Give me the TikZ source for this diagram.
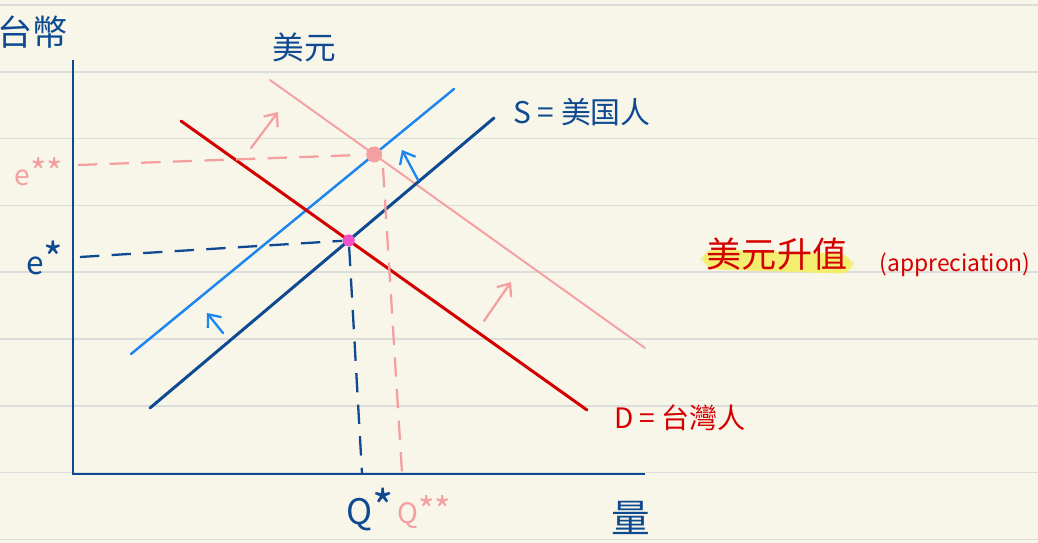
\documentclass[tikz,border=0pt]{standalone}
\usepackage{fontspec}
\newfontfamily\cjk{Noto Sans CJK TC}
\usetikzlibrary{arrows.meta}
\definecolor{paper}{HTML}{F8F5E9}
\definecolor{rule}{HTML}{DCDCDA}
\definecolor{navy}{HTML}{0D4A91}
\definecolor{sky}{HTML}{1C86EE}
\definecolor{crimson}{HTML}{D40000}
\definecolor{salmon}{HTML}{F5A0A0}
\definecolor{orchid}{HTML}{F050C8}
\definecolor{marker}{HTML}{F4EE70}
\newcommand{\hand}[1]{\cjk\fontsize{#1}{#1}\selectfont}
\newcommand{\bigstar}[1]{{\fontsize{#1}{#1}\selectfont*}}

\begin{document}
\begin{tikzpicture}[
    x=0.02cm, y=-0.02cm,
    curve/.style={line width=1.7pt, line cap=round},
    guide/.style={line width=1.3pt, dash pattern=on 11pt off 7pt},
    movearrow/.style={line width=1.3pt, line cap=round, -{Straight Barb[length=6pt, width=10pt]}},
    lbl/.style={inner sep=0pt},
    dot/.style={circle, inner sep=0pt}
]
  \useasboundingbox (0,0) rectangle (1038,543);
  % Notebook paper with ruled lines.
  \fill[paper] (0,0) rectangle (1038,543);
  \foreach \k in {0,...,8}
    \draw[rule, line width=0.9pt] (0,{5+66.8*\k}) -- (1038,{5+66.8*\k});

  % Axes.
  \coordinate (top) at (73,60);
  \coordinate (origin) at (73,474);
  \coordinate (right) at (645,474);
  \draw[navy, line width=1.7pt] (top) -- (origin) -- (right);

  % Supply and demand, before and after the shift.
  \coordinate (s1) at (150,408);  \coordinate (s2) at (494,118);
  \coordinate (d1) at (181,121);  \coordinate (d2) at (587,410);
  \coordinate (ss1) at (131,354); \coordinate (ss2) at (454,89);
  \coordinate (dd1) at (270,80);  \coordinate (dd2) at (645,348);
  \draw[curve, sky, line width=1.4pt] (ss1) -- (ss2);
  \draw[curve, salmon, line width=1.1pt] (dd1) -- (dd2);
  \draw[curve, navy] (s1) -- (s2);
  \draw[curve, crimson] (d1) -- (d2);

  \node[dot, fill=orchid, minimum size=0.24cm] (eq) at (intersection of s1--s2 and d1--d2) {};
  \node[dot, fill=salmon, minimum size=0.32cm] (eqq) at (intersection of ss1--ss2 and dd1--dd2) {};

  % Labels.
  \node[lbl, navy, font=\hand{20}] (money) at (33,32) {台幣};
  \node[lbl, navy, font=\hand{18}] (usd) at (304,47) {美元};
  \node[lbl, navy, font=\hand{17}] (supply) at (582,112) {S = 美国人};
  \node[lbl, crimson, font=\hand{16}] (demand) at (680,418) {D = 台灣人};
  \node[lbl, navy, font=\hand{22}] (qty) at (631,518) {量};
  \node[lbl, navy, font=\hand{18}] (estar) at (45,258) {e\bigstar{24}};
  \node[lbl, salmon, font=\hand{16}] (estar2) at (39,172) {e\bigstar{20}\bigstar{20}};
  \node[lbl, navy, font=\hand{20}] (qstar) at (370,510) {Q\bigstar{26}};
  \node[lbl, salmon, font=\hand{16}] (qstar2) at (424,512) {Q\bigstar{20}\bigstar{20}};

  % Highlighted note.
  \fill[marker, rounded corners=9pt] (700,249) -- (853,254) -- (855,274) -- (702,269) -- cycle;
  \node[lbl, crimson, font=\hand{20}] (rise) at (777,254) {美元升值};
  \node[lbl, crimson, font=\hand{13}] (rise2) at (955,265) {(appreciation)};

  % Guides to the axes.
  \coordinate (efoot) at (80,257);
  \coordinate (eefoot) at (78,165);
  \coordinate (qfoot) at (362,473);
  \coordinate (qqtop) at (383,168);
  \coordinate (qqfoot) at (402,473);
  \draw[guide, navy] (efoot) -- (eq);
  \draw[guide, navy] (eq) -- (qfoot);
  \draw[guide, salmon, shorten >=0.25cm] (eefoot) -- (eqq);
  \draw[guide, salmon] (qqtop) -- (qqfoot);

  % Shift arrows.
  \coordinate (a1) at (223,333); \coordinate (a1e) at (207,313);
  \coordinate (a2) at (418,180); \coordinate (a2e) at (402,150);
  \coordinate (b1) at (251,148); \coordinate (b1e) at (278,112);
  \coordinate (b2) at (484,321); \coordinate (b2e) at (511,282);
  \draw[movearrow, sky] (a1) -- (a1e);
  \draw[movearrow, sky] (a2) -- (a2e);
  \draw[movearrow, salmon] (b1) -- (b1e);
  \draw[movearrow, salmon] (b2) -- (b2e);
\end{tikzpicture}
\end{document}
